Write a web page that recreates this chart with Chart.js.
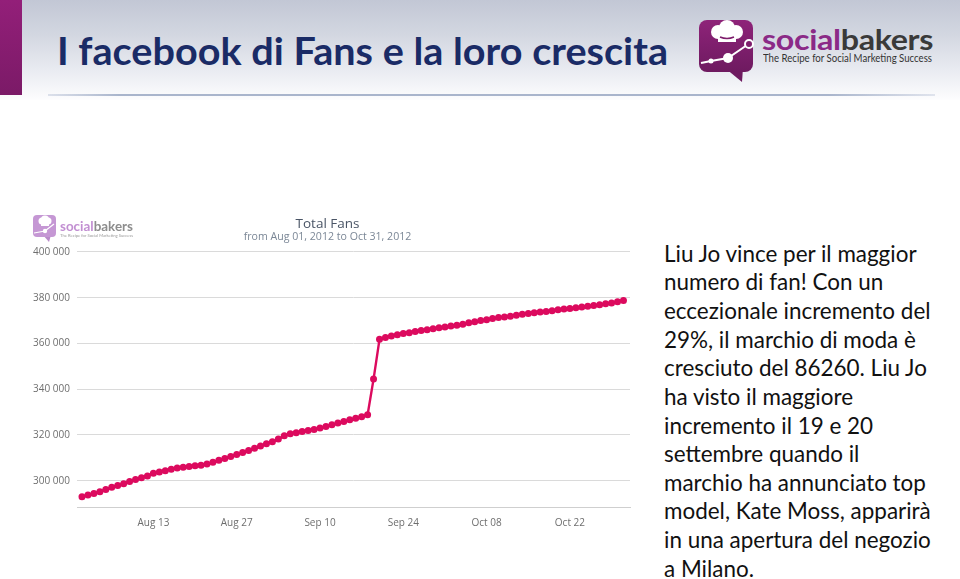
<!DOCTYPE html>
<html><head><meta charset="utf-8">
<script src="https://cdn.jsdelivr.net/npm/chart.js@4/dist/chart.umd.min.js"></script>
<style>
html,body{margin:0;padding:0;}
body{width:960px;height:579px;position:relative;overflow:hidden;background:#fff;font-family:Lato,"Open Sans",sans-serif;}
#topband{position:absolute;left:0;top:0;width:960px;height:100px;background:linear-gradient(#c2c7d5 0%,#d3d7e1 35%,#e9ebf1 70%,#fdfdfe 100%);}
#bar{position:absolute;left:0;top:0;width:22px;height:95px;background:linear-gradient(#931f79,#7b1a67);}
#rule{position:absolute;left:48px;top:94px;width:887px;height:2px;background:linear-gradient(90deg,rgba(165,178,204,0.35),#a9b5cc 8%,#a9b5cc 88%,rgba(165,178,204,0.3));}
.t{position:absolute;white-space:nowrap;transform-origin:0 0;line-height:1;}
#title{left:57px;top:30px;font-size:38px;font-weight:700;color:#1a2b66;}
#brand{left:762px;top:26px;font-size:28px;font-weight:700;color:#3a3a3a;letter-spacing:-0.3px;}
#brand .s{color:#8b2a87;}
#tag{left:763px;top:53px;font-size:11px;color:#333;}
#sbrand{left:60px;top:218px;font-size:14px;font-weight:700;color:#8d8d8d;}
#sbrand .s{color:#c28fd2;}
#stag{left:60px;top:233px;font-size:4px;color:#999;}
.ln{left:664px;font-size:23px;color:#111;}
#chartbox{position:absolute;left:25px;top:208px;width:612px;height:322px;}
</style></head>
<body>
<div id="topband"></div>
<div id="bar"></div>
<div id="rule"></div>
<div id="title" class="t">I facebook di Fans e la loro crescita</div>

<svg style="position:absolute;left:697px;top:18px" width="60" height="68" viewBox="0 0 60 68">
  <defs><linearGradient id="g" x1="0" y1="0" x2="0" y2="1"><stop offset="0" stop-color="#8e2379"/><stop offset="1" stop-color="#6e1a60"/></linearGradient></defs>
  <polygon points="28,50 46,50 45,64" fill="#6e1a60"/>
  <rect x="2" y="2" width="54" height="52" rx="8" fill="url(#g)"/>
  <circle cx="21" cy="14" r="7" fill="#fff"/>
  <circle cx="30" cy="10" r="8" fill="#fff"/>
  <circle cx="39" cy="14" r="7" fill="#fff"/>
  <rect x="21" y="13" width="18" height="11" fill="#fff"/>
  <path d="M23 19 Q30 22 37 19" stroke="#7e1d6c" stroke-width="1.5" fill="none"/>
  <polyline points="4,45 14,43 31,40 53,25" stroke="#fff" stroke-width="2" fill="none"/>
  <circle cx="14" cy="43" r="2.5" fill="#fff"/>
  <circle cx="31" cy="40" r="5" fill="#fff"/>
  <circle cx="52" cy="26" r="4" fill="#7e1d6c" stroke="#fff" stroke-width="2"/>
</svg>
<div id="brand" class="t"><span class="s">social</span>bakers</div>
<div id="tag" class="t">The Recipe for Social Marketing Success</div>

<div id="chartbox"><canvas id="c"></canvas></div>

<svg style="position:absolute;left:32px;top:213px" width="26" height="30" viewBox="0 0 26 30">
  <polygon points="11,22 19,22 17,29" fill="#b98ac9"/>
  <rect x="1" y="2" width="23" height="22" rx="4" fill="#c597d4"/>
  <circle cx="10" cy="8" r="3.5" fill="#fff"/><circle cx="13" cy="6.5" r="4" fill="#fff"/><circle cx="16" cy="8" r="3.5" fill="#fff"/>
  <rect x="9" y="8" width="8" height="5" fill="#fff"/>
  <polyline points="2,20 13,18 22,11" stroke="#fff" stroke-width="1.2" fill="none"/>
  <circle cx="13" cy="18" r="2.2" fill="#fff"/>
</svg>
<div id="sbrand" class="t"><span class="s">social</span>bakers</div>
<div id="stag" class="t">The Recipe for Social Marketing Success</div>

<div class="t ln">Liu Jo vince per il maggior</div>
<div class="t ln">numero di fan! Con un</div>
<div class="t ln">eccezionale incremento del</div>
<div class="t ln">29%, il marchio di moda è</div>
<div class="t ln">cresciuto del 86260. Liu Jo</div>
<div class="t ln">ha visto il maggiore</div>
<div class="t ln">incremento il 19 e 20</div>
<div class="t ln">settembre quando il</div>
<div class="t ln">marchio ha annunciato top</div>
<div class="t ln">model, Kate Moss, apparirà</div>
<div class="t ln">in una apertura del negozio</div>
<div class="t ln">a Milano.</div>

<script>
// ---- data (daily Total Fans, Aug 01 – Oct 31, 2012) ----
const fans = [
  293000,293700,294400,295200,296200,297100,297900,298700,299600,300500,
  301300,302100,303300,303800,304400,305000,305500,305900,306200,306500,
  306800,307300,308100,308900,309700,310600,311500,312300,313200,314200,
  315200,316100,317000,318200,319600,320500,321000,321500,321900,322400,
  323000,323700,324400,325200,325900,326600,327300,328000,328800,344400,
  361800,362600,363200,363800,364300,364700,365200,365600,366000,366400,
  366800,367200,367600,368000,368400,369000,369500,370000,370400,370900,
  371300,371600,371900,372300,372700,373100,373400,373700,374000,374300,
  374700,375000,375300,375600,375900,376200,376600,376900,377300,377700,
  378200,378800
];
const xTickDays = [12, 26, 40, 54, 68, 82];
const xTickLabels = ['Aug 13', 'Aug 27', 'Sep 10', 'Sep 24', 'Oct 08', 'Oct 22'];
const yTicks = [300000, 320000, 340000, 360000, 380000, 400000];
const chartTitle = 'Total Fans';
const chartSubtitle = 'from Aug 01, 2012 to Oct 31, 2012';

// ---- text fitting helpers ----
function baselineOffset(el){
  const m = document.createElement('span');
  m.style.cssText = 'display:inline-block;width:0;height:0;vertical-align:baseline';
  el.appendChild(m);
  const off = m.getBoundingClientRect().top - el.getBoundingClientRect().top;
  m.remove();
  return off;
}
function fit(el, targetW, baseY){
  const w = el.getBoundingClientRect().width;
  el.style.transform = 'scaleX(' + (targetW / w) + ')';
  el.style.top = (baseY - baselineOffset(el)) + 'px';
}
fit(document.getElementById('title'), 611, 65);
fit(document.getElementById('brand'), 171, 50);
fit(document.getElementById('tag'), 169, 62);
fit(document.getElementById('sbrand'), 73, 231);
fit(document.getElementById('stag'), 73, 237);

const lineTargets = [247,218,265,252,253,188,205,195,262,267,268,112];
const lines = Array.from(document.querySelectorAll('.ln'));
let natural = 0, target = 0;
lines.forEach((el,i)=>{ natural += el.getBoundingClientRect().width; target += lineTargets[i]; });
const s = target / natural;
lines.forEach((el,i)=>{
  el.style.transform = 'scaleX(' + s + ')';
  el.style.top = (261.7 + i * 28.64 - baselineOffset(el)) + 'px';
});

// ---- chart ----
const fmt = v => String(v).replace(/\B(?=(\d{3})+(?!\d))/g, ' ');
const lineColor = '#dc0a5e';
new Chart(document.getElementById('c'), {
  type: 'line',
  data: {
    datasets: [{
      data: fans.map((v, i) => ({ x: i, y: v })),
      borderColor: lineColor,
      backgroundColor: lineColor,
      borderWidth: 2.4,
      pointRadius: 3.5,
      pointBorderWidth: 0,
      pointBackgroundColor: lineColor,
      tension: 0
    }]
  },
  options: {
    responsive: true,
    maintainAspectRatio: false,
    animation: false,
    layout: { padding: { left: 0, right: 7, top: 0, bottom: 0 } },
    plugins: {
      legend: { display: false },
      tooltip: { enabled: false },
      title: {
        display: true, text: chartTitle, color: '#4a5566',
        font: { family: 'Open Sans', size: 13.5, weight: 'normal' },
        padding: { top: 8, bottom: -2 }
      },
      subtitle: {
        display: true, text: chartSubtitle, color: '#7b8796',
        font: { family: 'Open Sans', size: 10.6, weight: 'normal' },
        padding: { top: 0, bottom: 9 }
      }
    },
    scales: {
      x: {
        type: 'linear', min: -0.84, max: 92.1,
        afterBuildTicks: a => { a.ticks = xTickDays.map(v => ({ value: v })); },
        afterFit: sc => { sc.height = 23; },
        grid: { display: false },
        border: { display: true, color: '#cfcfcf', width: 1 },
        ticks: {
          autoSkip: false, maxRotation: 0, padding: 2, color: '#6e6e6e',
          font: { family: 'Open Sans', size: 10 },
          callback: v => xTickLabels[xTickDays.indexOf(v)] || ''
        }
      },
      y: {
        min: 288500, max: 400000,
        afterBuildTicks: a => { a.ticks = yTicks.map(v => ({ value: v })); },
        afterFit: sc => { sc.width = 52; },
        grid: { color: '#dadada', lineWidth: 1, drawTicks: false },
        border: { display: false },
        ticks: {
          padding: 7, color: '#6e6e6e',
          font: { family: 'Open Sans', size: 10 },
          callback: v => fmt(v)
        }
      }
    }
  }
});
</script>
</body></html>
